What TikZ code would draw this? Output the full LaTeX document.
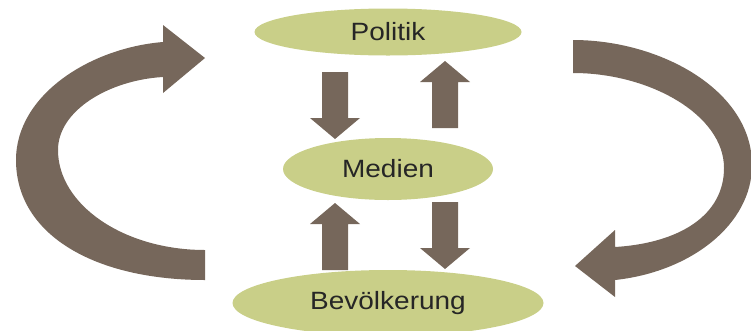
\documentclass[tikz,border=0pt]{standalone}
\usepackage{fontspec}
\setmainfont{Liberation Sans}
\newfontfamily\labfont[FakeStretch=1.12]{Liberation Sans}
\usetikzlibrary{shapes.geometric}
\definecolor{leafgreen}{HTML}{C9CF88}
\definecolor{arrowbrown}{HTML}{76675B}
\tikzset{
  bubble/.style={ellipse, fill=leafgreen, inner sep=0pt, font=\labfont\fontsize{25}{30}\selectfont, text=black!85},
  blockdown/.pic={\fill[arrowbrown] (-13,0) -- (13,0) -- (13,46) -- (25,46) -- (0,67) -- (-25,46) -- (-13,46) -- cycle;},
  curvearrow/.style={fill=arrowbrown}
}
\begin{document}
\begin{tikzpicture}[x=1pt,y=-1pt]
\useasboundingbox (0,0) rectangle (751,330);
% ellipses
\node[bubble, minimum width=267pt, minimum height=47pt] (pol) at (388,32) {Politik};
\node[bubble, minimum width=210pt, minimum height=62pt] (med) at (388,169) {Medien};
\node[bubble, minimum width=311pt, minimum height=66pt] (bev) at (388,303) {Bevölkerung};
% straight block arrows
\pic at (335,72) {blockdown};
\pic[rotate=180] at (445,128) {blockdown};
\pic[rotate=180] at (335,270) {blockdown};
\pic at (445,202) {blockdown};
% left curved arrow
\fill[curvearrow] (163,42) .. controls (90,48) and (16,95) .. (16,160)
  .. controls (16,235) and (95,280) .. (205,280)
  -- (205,250) .. controls (124,250) and (58,205) .. (58,150)
  .. controls (58,110) and (110,80) .. (163,77)
  -- (163,93) -- (205,58) -- (163,25) -- cycle;
% right curved arrow
\fill[curvearrow] (573,40) .. controls (660,40) and (752,90) .. (752,165)
  .. controls (752,225) and (690,272) .. (615,280)
  -- (615,297) -- (575,266) -- (615,230) -- (615,247)
  .. controls (680,243) and (724,215) .. (724,168)
  .. controls (724,115) and (650,73) .. (573,73) -- cycle;
\end{tikzpicture}
\end{document}
